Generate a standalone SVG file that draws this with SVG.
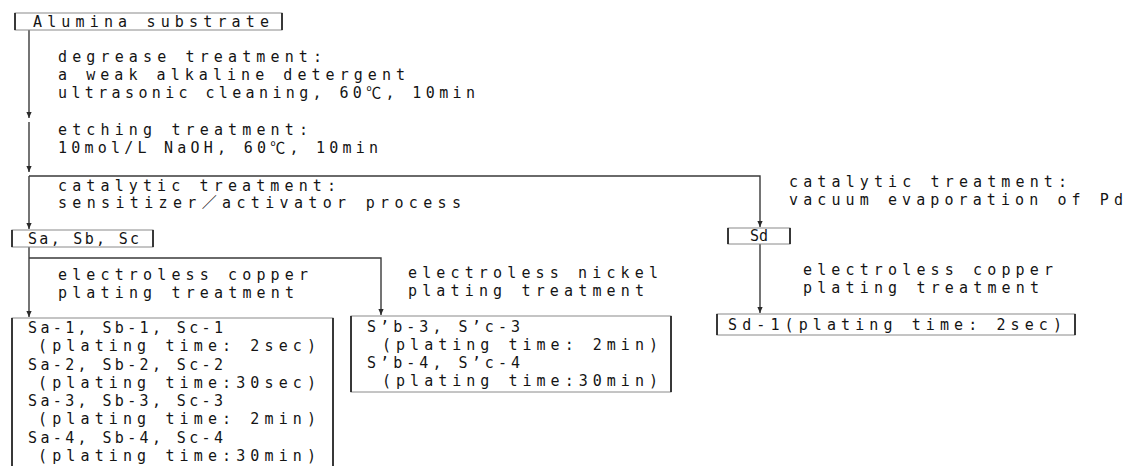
<svg xmlns="http://www.w3.org/2000/svg" width="1127" height="466" viewBox="0 0 1127 466">
<style>
  text { font-family: "DejaVu Sans Mono", "Noto Sans CJK JP", monospace; font-size: 15px; fill: #141414; }
  .box { fill: #ffffff; stroke: #8a8a8a; stroke-width: 1; }
  .side { stroke: #2a2a2a; stroke-width: 1.8; fill: none; }
  .conn { stroke: #3a3a3a; stroke-width: 1.4; fill: none; }
</style>
<defs>
  <marker id="arr" markerUnits="userSpaceOnUse" markerWidth="8" markerHeight="8" refX="6" refY="3" orient="auto">
    <path d="M0,0.4 L6,3 L0,5.6 z" fill="#2a2a2a"/>
  </marker>
</defs>
<rect width="1127" height="466" fill="#ffffff"/>

<g id="connectors">
  <path class="conn" d="M29,30 V118" marker-end="url(#arr)"/>
  <path class="conn" d="M29,122 V172" marker-end="url(#arr)"/>
  <path class="conn" d="M29,176 V229" marker-end="url(#arr)"/>
  <path class="conn" d="M29,176 H760 V227" marker-end="url(#arr)"/>
  <path class="conn" d="M29,247 V317" marker-end="url(#arr)"/>
  <path class="conn" d="M29,258 H381 V315" marker-end="url(#arr)"/>
  <path class="conn" d="M760,244 V313" marker-end="url(#arr)"/>
</g>

<g id="labels">
  <text x="58" y="62" textLength="264" lengthAdjust="spacing">degrease treatment:</text>
  <text x="58" y="80" textLength="347" lengthAdjust="spacing">a weak alkaline detergent</text>
  <text x="58" y="98" textLength="417" lengthAdjust="spacing">ultrasonic cleaning, 60℃, 10min</text>
  <text x="58" y="135" textLength="250" lengthAdjust="spacing">etching treatment:</text>
  <text x="58" y="153" textLength="320" lengthAdjust="spacing">10mol/L NaOH, 60℃, 10min</text>
  <text x="58" y="191" textLength="278" lengthAdjust="spacing">catalytic treatment:</text>
  <text x="58" y="208" textLength="403" lengthAdjust="spacing">sensitizer／activator process</text>
  <text x="789" y="187" textLength="278" lengthAdjust="spacing">catalytic treatment:</text>
  <text x="789" y="205" textLength="334" lengthAdjust="spacing">vacuum evaporation of Pd</text>
  <text x="58" y="280" textLength="250" lengthAdjust="spacing">electroless copper</text>
  <text x="58" y="298" textLength="236" lengthAdjust="spacing">plating treatment</text>
  <text x="408" y="278" textLength="250" lengthAdjust="spacing">electroless nickel</text>
  <text x="408" y="296" textLength="236" lengthAdjust="spacing">plating treatment</text>
  <text x="803" y="275" textLength="250" lengthAdjust="spacing">electroless copper</text>
  <text x="803" y="293" textLength="236" lengthAdjust="spacing">plating treatment</text>
</g>

<g id="node-alumina">
  <rect class="box" x="15" y="13" width="267" height="17"/>
  <path class="side" d="M15,13 V30 M282,13 V30"/>
  <text x="33" y="27" textLength="236" lengthAdjust="spacing">Alumina substrate</text>
</g>

<g id="node-sabc">
  <rect class="box" x="12" y="230" width="141" height="17"/>
  <path class="side" d="M12,230 V247 M153,230 V247"/>
  <text x="28" y="244" textLength="111" lengthAdjust="spacing">Sa, Sb, Sc</text>
</g>

<g id="node-sd">
  <rect class="box" x="728" y="228" width="62" height="16"/>
  <path class="side" d="M728,228 V244 M790,228 V244"/>
  <text x="759" y="241" text-anchor="middle">Sd</text>
</g>

<g id="node-copper-results">
  <rect class="box" x="12" y="318" width="321" height="155"/>
  <path class="side" d="M12,318 V470 M333,318 V470"/>
  <text x="28" y="333" textLength="195" lengthAdjust="spacing">Sa-1, Sb-1, Sc-1</text>
  <text x="38" y="351" textLength="278" lengthAdjust="spacing">(plating time: 2sec)</text>
  <text x="28" y="370" textLength="195" lengthAdjust="spacing">Sa-2, Sb-2, Sc-2</text>
  <text x="38" y="388" textLength="278" lengthAdjust="spacing">(plating time:30sec)</text>
  <text x="28" y="406" textLength="195" lengthAdjust="spacing">Sa-3, Sb-3, Sc-3</text>
  <text x="38" y="424" textLength="278" lengthAdjust="spacing">(plating time: 2min)</text>
  <text x="28" y="443" textLength="195" lengthAdjust="spacing">Sa-4, Sb-4, Sc-4</text>
  <text x="38" y="461" textLength="278" lengthAdjust="spacing">(plating time:30min)</text>
</g>

<g id="node-nickel-results">
  <rect class="box" x="351" y="316" width="320" height="76"/>
  <path class="side" d="M351,316 V392 M671,316 V392"/>
  <text x="367" y="332" textLength="153" lengthAdjust="spacing">S’b-3, S’c-3</text>
  <text x="382" y="350" textLength="276" lengthAdjust="spacing">(plating time: 2min)</text>
  <text x="367" y="368" textLength="153" lengthAdjust="spacing">S’b-4, S’c-4</text>
  <text x="382" y="386" textLength="276" lengthAdjust="spacing">(plating time:30min)</text>
</g>

<g id="node-sd1">
  <rect class="box" x="717" y="314" width="358" height="21"/>
  <path class="side" d="M717,314 V335 M1075,314 V335"/>
  <text x="728" y="330" textLength="334" lengthAdjust="spacing">Sd-1(plating time: 2sec)</text>
</g>
</svg>
